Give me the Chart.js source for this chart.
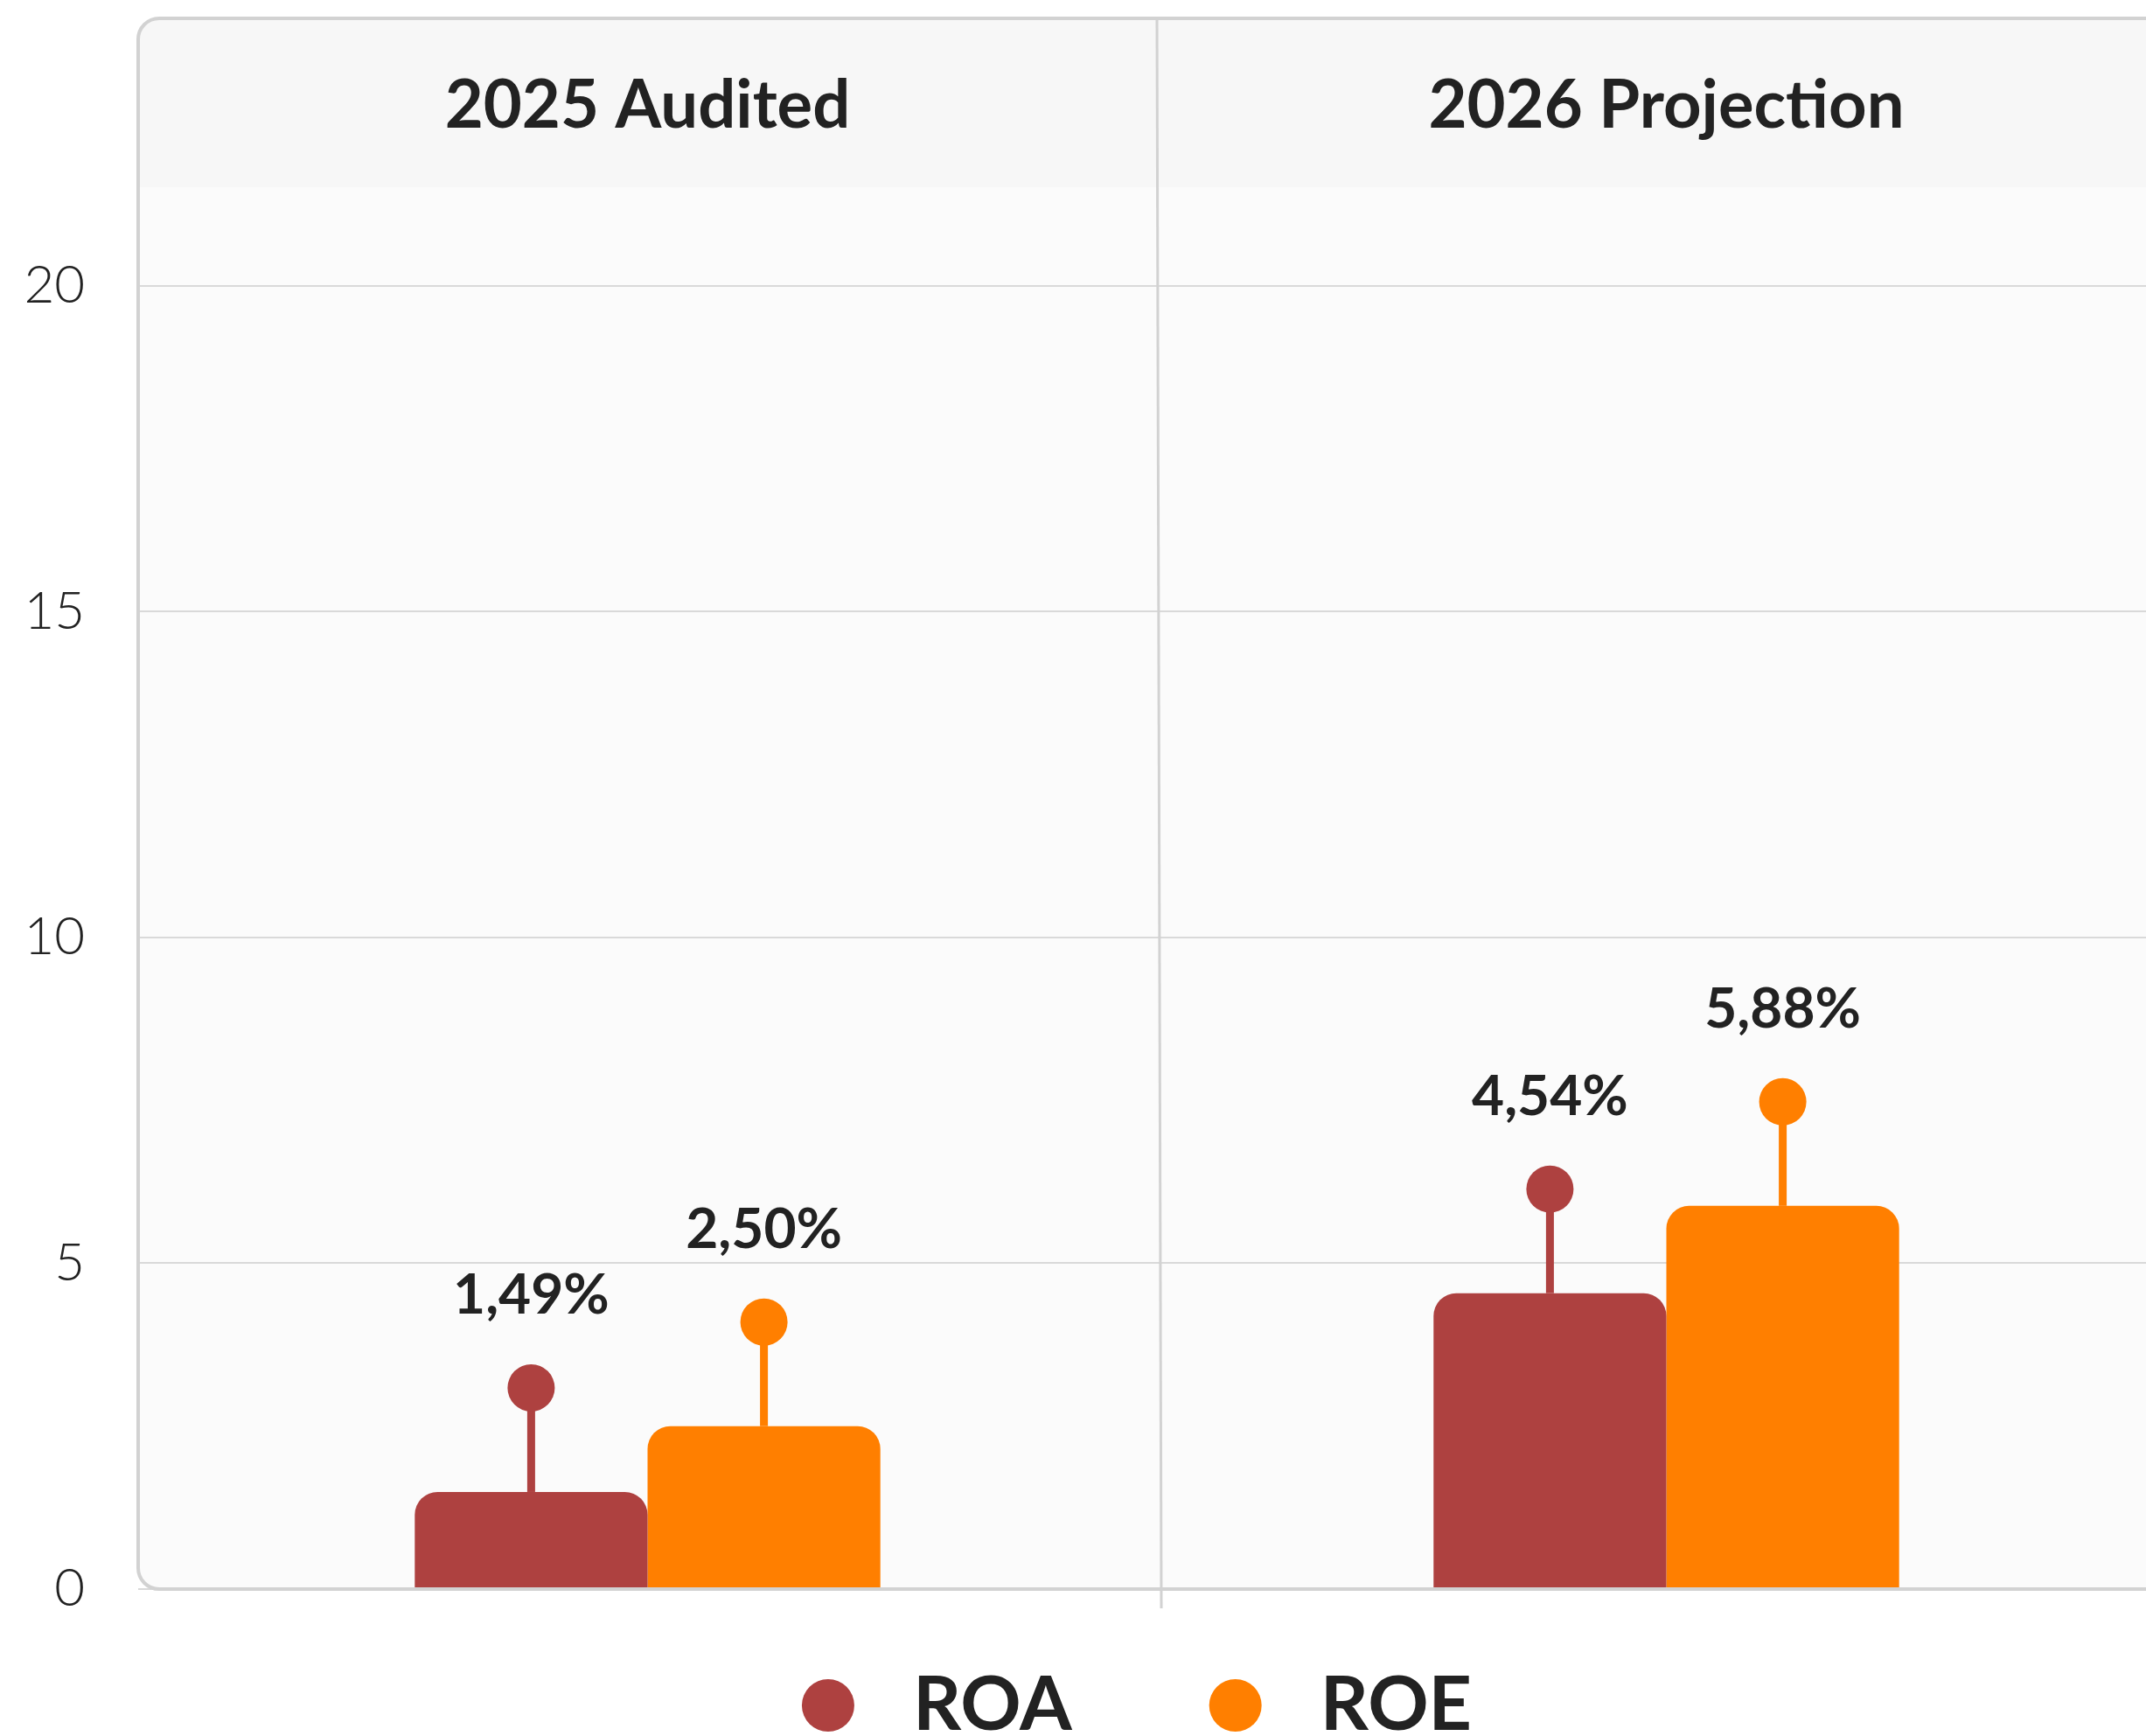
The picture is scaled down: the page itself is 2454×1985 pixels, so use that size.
<!DOCTYPE html>
<html>
<head>
<meta charset="utf-8">
<script src="https://cdn.jsdelivr.net/npm/chart.js@4.4.1/dist/chart.umd.min.js"></script>
<style>
  html, body { margin: 0; padding: 0; background: #ffffff; overflow: hidden; }
  #wrap { width: 2488px; height: 2030px; }
</style>
</head>
<body>
<div id="wrap"><canvas id="chart" width="2488" height="2030"></canvas></div>
<script>
const categories = ['2025 Audited', '2026 Projection'];
const seriesNames = ['ROA', 'ROE'];
const roaValues = [1.49, 4.54];
const roeValues = [2.50, 5.88];
const seriesColors = ['#ae4140', '#ff7f00'];
const yTickValues = [0, 5, 10, 15, 20];
const yMax = 24.1;

const TEXT = '#222222';
const LINE = '#d2d2d2';
const FONT = 'Lato, "Open Sans", sans-serif';

function pct(v) {
  return v.toFixed(2).replace('.', ',') + '%';
}

function cardPath(ctx, a, r) {
  const x = a.left, y = a.top, w = a.right + 40 - a.left, h = a.bottom - a.top;
  ctx.beginPath();
  ctx.moveTo(x + r, y);
  ctx.lineTo(x + w, y);
  ctx.lineTo(x + w, y + h);
  ctx.lineTo(x + r, y + h);
  ctx.arcTo(x, y + h, x, y + h - r, r);
  ctx.lineTo(x, y + r);
  ctx.arcTo(x, y, x + r, y, r);
  ctx.closePath();
}

const cardPlugin = {
  id: 'card',
  beforeDraw(chart) {
    const { ctx, chartArea: a } = chart;
    ctx.save();
    cardPath(ctx, a, 24);
    ctx.fillStyle = '#fbfbfb';
    ctx.fill();
    ctx.clip();
    ctx.fillStyle = '#f7f7f7';
    ctx.fillRect(a.left, a.top, a.right - a.left + 40, 193);
    ctx.restore();
  },
  afterDatasetsDraw(chart) {
    const { ctx } = chart;
    ctx.save();
    chart.data.datasets.forEach((ds, di) => {
      chart.getDatasetMeta(di).data.forEach((bar, i) => {
        const cy = bar.y - 119;
        ctx.fillStyle = ds.backgroundColor;
        ctx.fillRect(bar.x - 4.5, cy, 9, bar.y - cy);
        ctx.beginPath();
        ctx.arc(bar.x, cy, 27, 0, Math.PI * 2);
        ctx.fill();
        ctx.fillStyle = TEXT;
        ctx.font = `700 64px ${FONT}`;
        ctx.textAlign = 'center';
        ctx.textBaseline = 'alphabetic';
        ctx.fillText(pct(ds.data[i]), bar.x, cy - 85);
      });
    });
    ctx.restore();
  },
  afterDraw(chart) {
    const { ctx, chartArea: a, scales } = chart;
    const xs = scales.x;
    ctx.save();
    // card outline and bottom axis
    cardPath(ctx, a, 24);
    ctx.strokeStyle = LINE;
    ctx.lineWidth = 4;
    ctx.stroke();
    // divider between the two groups
    const dx = xs.getPixelForValue(0.5);
    ctx.beginPath();
    ctx.moveTo(dx, a.top);
    ctx.lineTo(dx + 5, a.bottom + 22);
    ctx.lineWidth = 3;
    ctx.stroke();
    // group headers
    ctx.fillStyle = TEXT;
    ctx.font = `700 76px ${FONT}`;
    ctx.textAlign = 'center';
    ctx.textBaseline = 'alphabetic';
    categories.forEach((c, i) => ctx.fillText(c, xs.getPixelForValue(i), a.top + 125));
    // legend
    ctx.font = `700 86px ${FONT}`;
    const r = 30, gapText = 67, gapItem = 157;
    const widths = seriesNames.map((n) => ctx.measureText(n).width);
    const total = widths.reduce((s, w) => s + 2 * r + gapText + w, 0) + gapItem * (seriesNames.length - 1);
    let x = 1300 - total / 2;
    const ly = 1950;
    ctx.textAlign = 'left';
    ctx.textBaseline = 'middle';
    seriesNames.forEach((n, i) => {
      ctx.fillStyle = seriesColors[i];
      ctx.beginPath();
      ctx.arc(x + r, ly, r, 0, Math.PI * 2);
      ctx.fill();
      ctx.fillStyle = TEXT;
      ctx.fillText(n, x + 2 * r + gapText, ly);
      x += 2 * r + gapText + widths[i] + gapItem;
    });
    ctx.restore();
  }
};

new Chart(document.getElementById('chart'), {
  type: 'bar',
  data: {
    labels: categories,
    datasets: [
      { label: seriesNames[0], data: roaValues, backgroundColor: seriesColors[0] },
      { label: seriesNames[1], data: roeValues, backgroundColor: seriesColors[1] }
    ]
  },
  options: {
    responsive: false,
    animation: false,
    layout: { padding: { top: 21, bottom: 213, left: 0, right: 0 } },
    datasets: {
      bar: { categoryPercentage: 0.457, barPercentage: 1.0, borderRadius: 26 }
    },
    scales: {
      x: { display: false },
      y: {
        min: 0,
        max: yMax,
        afterBuildTicks(scale) {
          scale.ticks = yTickValues.map((v) => ({ value: v }));
        },
        afterFit(scale) {
          scale.width = 158;
          scale.paddingTop = 0;
          scale.paddingBottom = 0;
        },
        grid: { color: '#d9d9d9', lineWidth: 2, drawTicks: false },
        border: { display: false },
        ticks: {
          padding: 61,
          color: TEXT,
          font: { family: FONT, size: 60, weight: 300 }
        }
      }
    },
    plugins: {
      legend: { display: false },
      tooltip: { enabled: false }
    }
  },
  plugins: [cardPlugin]
});
</script>
</body>
</html>
